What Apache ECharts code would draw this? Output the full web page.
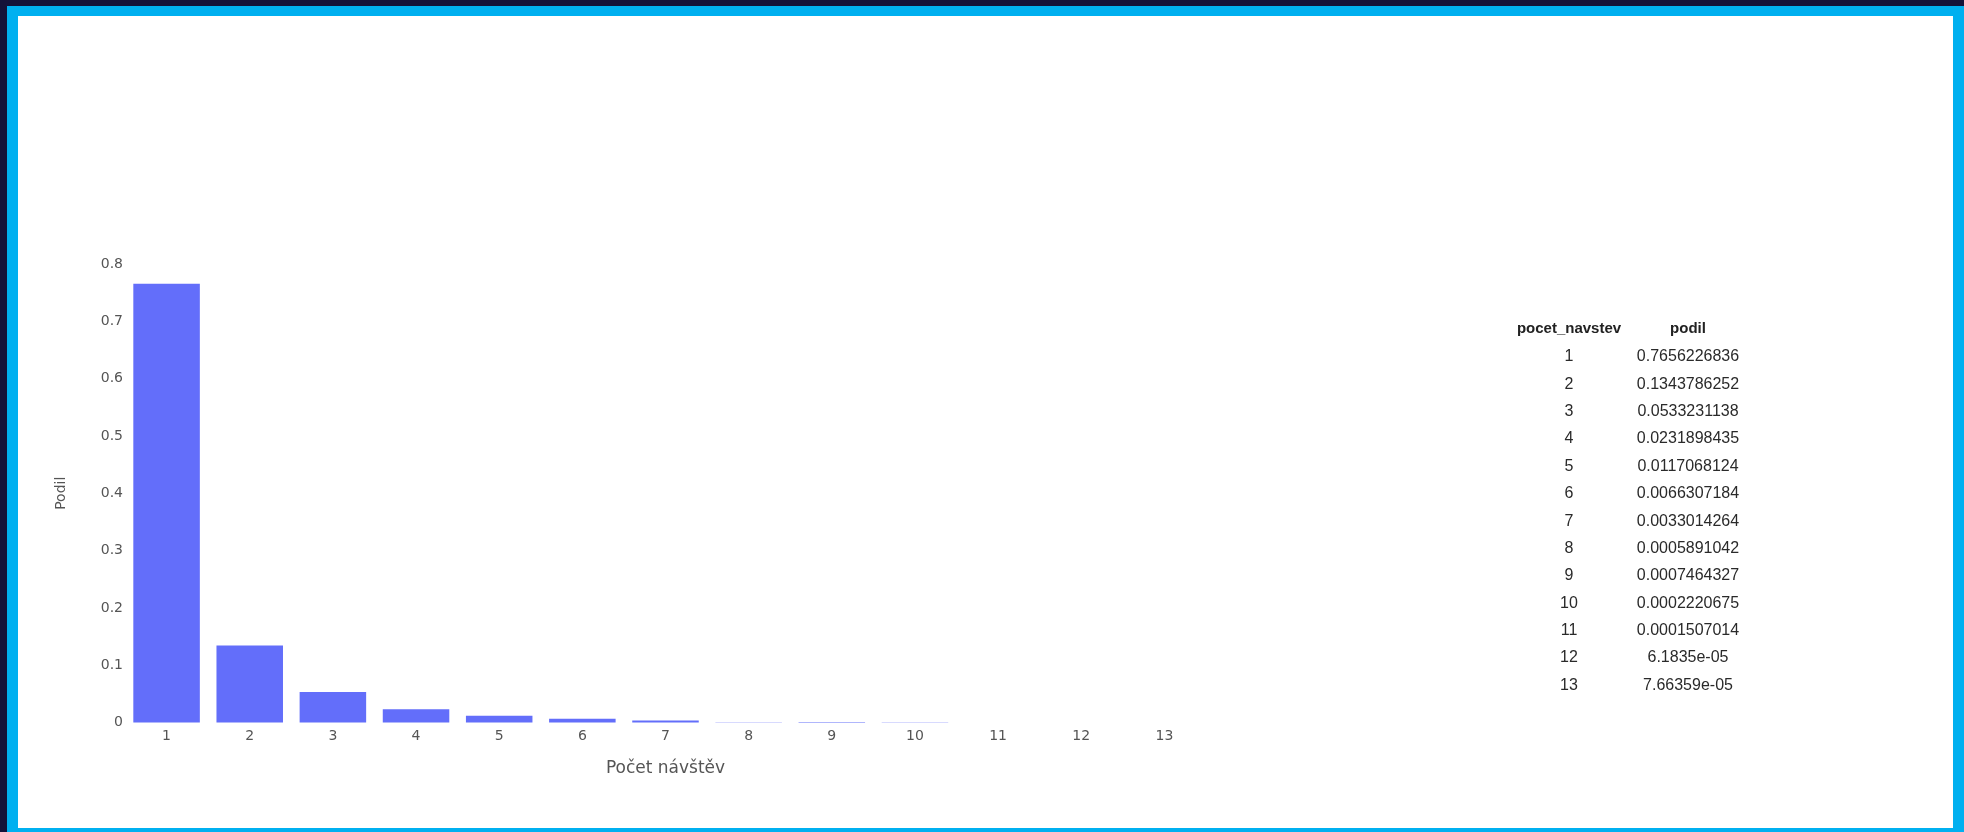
<!DOCTYPE html>
<html>
<head>
<meta charset="utf-8">
<script src="https://cdn.jsdelivr.net/npm/echarts@6/dist/echarts.min.js"></script>
<style>
    html, body { margin: 0; padding: 0; background: #141339; overflow: hidden; }
    #frame {
        position: absolute; left: 7px; top: 6px; width: 1957px; height: 826px;
        box-sizing: border-box; background: #ffffff;
        border-style: solid; border-color: #00b0f0;
        border-width: 10px 11px 4px 11px;
    }
    #chart { position: absolute; left: 0; top: 0; width: 1964px; height: 832px; }
</style>
</head>
<body>
<div id="frame"></div>
<div id="chart"></div>
<script>
// pocet navstev -> podil
const navstevy = ['1', '2', '3', '4', '5', '6', '7', '8', '9', '10', '11', '12', '13'];
const podil = [
    0.7656226836, 0.1343786252, 0.0533231138, 0.0231898435, 0.0117068124,
    0.0066307184, 0.0033014264, 0.0005891042, 0.0007464327, 0.0002220675,
    0.0001507014, 6.1835e-05, 7.66359e-05
];
const yTicks = [0, 0.1, 0.2, 0.3, 0.4, 0.5, 0.6, 0.7, 0.8];
const tableHeader = ['pocet_navstev', 'podil'];

// formatovani jako v pandas tabulce
function fmt(v) {
    if (v >= 1e-4) return v.toFixed(10);
    return v.toExponential().replace(/e-(\d)$/, 'e-0$1');
}

const chart = echarts.init(document.getElementById('chart'));

// tabulka vpravo
const colX = [1569, 1688];
const headY = 329;
const rowY0 = 357;
const rowH = 27.35;
const tableEls = [];
tableHeader.forEach((h, c) => {
    tableEls.push({
        type: 'text', x: colX[c], y: headY,
        style: { text: h, align: 'center', verticalAlign: 'middle',
                 font: 'bold 15px "Liberation Sans", Arial, sans-serif', fill: '#222' }
    });
});
navstevy.forEach((n, i) => {
    const cells = [n, fmt(podil[i])];
    cells.forEach((t, c) => {
        tableEls.push({
            type: 'text', x: colX[c], y: rowY0 + i * rowH,
            style: { text: t, align: 'center', verticalAlign: 'middle',
                     font: '16px "Liberation Sans", Arial, sans-serif', fill: '#2a2a2a' }
        });
    });
});

const axisFont = '"DejaVu Sans", Verdana, sans-serif';

const option = {
    animation: false,
    grid: { left: 125, right: 758, top: 264, bottom: 109.5, containLabel: false },
    xAxis: {
        type: 'category',
        data: navstevy,
        name: 'Počet návštěv',
        nameLocation: 'middle',
        nameGap: 38,
        nameTextStyle: { color: '#555', fontSize: 17, fontFamily: axisFont },
        axisLine: { show: false },
        axisTick: { show: false },
        axisLabel: { color: '#555', fontSize: 14, fontFamily: axisFont, margin: 7 }
    },
    yAxis: {
        type: 'value',
        min: yTicks[0],
        max: yTicks[yTicks.length - 1],
        interval: 0.1,
        name: 'Podil',
        nameLocation: 'middle',
        nameGap: 57,
        nameTextStyle: { color: '#555', fontSize: 14, fontFamily: axisFont },
        axisLine: { show: false },
        axisTick: { show: false },
        splitLine: { show: false },
        axisLabel: { color: '#555', fontSize: 14, fontFamily: axisFont, margin: 2 }
    },
    series: [{
        type: 'bar',
        data: podil,
        barCategoryGap: '20%',
        itemStyle: { color: '#636efa' }
    }],
    graphic: tableEls
};

chart.setOption(option);
</script>
</body>
</html>
